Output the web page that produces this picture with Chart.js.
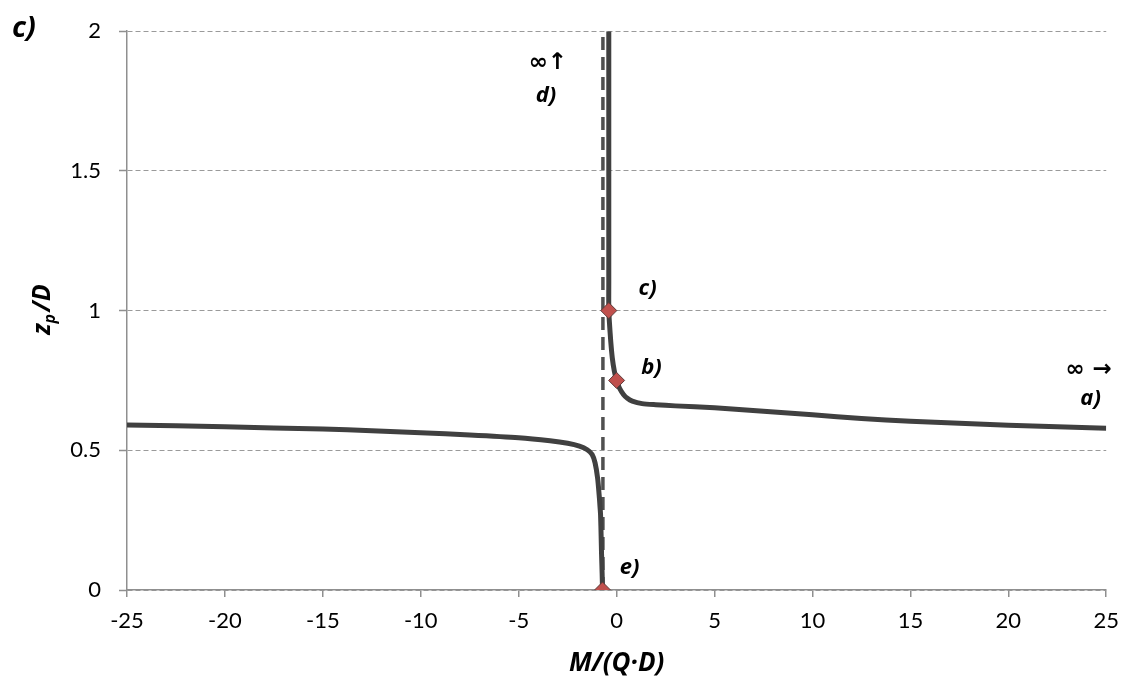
<!DOCTYPE html>
<html><head><meta charset="utf-8">
<script src="https://cdn.jsdelivr.net/npm/chart.js@4"></script>
<style>html,body{margin:0;padding:0;background:#fff}canvas{display:block}</style>
</head><body>
<canvas id="c" width="1130" height="684"></canvas>
<script>
// ---- data ----
const upperX = [-0.4, -0.4, -0.4, -0.4, -0.36, -0.3, -0.22, -0.12, 0, 0.15, 0.35, 0.55, 0.8, 1.3, 2, 3, 5, 7.5, 10, 12.5, 15, 17.5, 20, 22.5, 25];
const upperY = [2, 1.5, 1.1, 1.0, 0.95, 0.89, 0.83, 0.785, 0.75, 0.722, 0.70, 0.686, 0.676, 0.667, 0.663, 0.659, 0.652, 0.640, 0.627, 0.614, 0.604, 0.597, 0.590, 0.584, 0.579];
const lowerX = [-25, -20, -15, -12.5, -10, -7.5, -5, -3.4, -2.5, -1.9, -1.5, -1.25, -1.1, -0.97, -0.88, -0.85, -0.82, -0.79, -0.77, -0.74, -0.72];
const lowerY = [0.591, 0.584, 0.576, 0.570, 0.563, 0.555, 0.545, 0.534, 0.525, 0.515, 0.502, 0.485, 0.455, 0.40, 0.33, 0.30, 0.27, 0.19, 0.13, 0.06, 0];
const markerX = [-0.4, 0, -0.72];
const markerY = [1, 0.75, 0];
const asymptoteX = [-0.7, -0.7];
const asymptoteY = [0, 2];
const xTicks = [-25, -20, -15, -10, -5, 0, 5, 10, 15, 20, 25];
const xTickLabels = ['-25', '-20', '-15', '-10', '-5', '0', '5', '10', '15', '20', '25'];
const yTicks = [0, 0.5, 1, 1.5, 2];
const yTickLabels = ['0', '0.5', '1', '1.5', '2'];
const noteText = ['\u221E\u2191', 'd)', 'c)', 'b)', '\u221E \u2192', 'a)', 'e)'];
const noteX = [-3.51, -3.61, 1.58, 1.78, 24.1, 24.2, 0.66];
const noteY = [1.886, 1.769, 1.078, 0.797, 0.786, 0.683, 0.078];
const noteIsSymbol = [true, false, false, false, true, false, false];
const xTitle = 'M/(Q\u00B7D)';
const yTitleParts = ['z', 'p', '/D'];
const panelLabel = 'c)';

const toPts = (xs, ys) => xs.map((x, i) => ({x: x, y: ys[i]}));
const FONT = 'Lato, "Open Sans", sans-serif';
const BFONT = '"Open Sans", sans-serif';

const overlay = {
  id: 'overlay',
  afterDraw(chart) {
    const ctx = chart.ctx, xs = chart.scales.x, ys = chart.scales.y, ca = chart.chartArea;
    ctx.save();
    ctx.fillStyle = '#000';
    ctx.textAlign = 'center';
    ctx.textBaseline = 'middle';
    noteText.forEach((t, i) => {
      ctx.font = noteIsSymbol[i] ? 'bold 23px "DejaVu Sans", sans-serif' : 'italic 700 22px ' + BFONT;
      ctx.fillText(t, xs.getPixelForValue(noteX[i]), ys.getPixelForValue(noteY[i]));
    });
    // panel label
    ctx.font = 'italic 700 29px ' + BFONT;
    ctx.fillText(panelLabel, 24, 29);
    // x title
    ctx.font = 'italic 700 26px ' + BFONT;
    ctx.fillText(xTitle, (ca.left + ca.right) / 2, 664);
    // y title with subscript
    ctx.translate(43, (ca.top + ca.bottom) / 2);
    ctx.rotate(-Math.PI / 2);
    const fMain = 'italic 700 25px ' + BFONT, fSub = 'italic 700 16px ' + BFONT;
    ctx.font = fMain; const w0 = ctx.measureText(yTitleParts[0]).width;
    ctx.font = fSub; const w1 = ctx.measureText(yTitleParts[1]).width;
    ctx.font = fMain; const w2 = ctx.measureText(yTitleParts[2]).width;
    let x0 = -(w0 + w1 + w2) / 2;
    ctx.textAlign = 'left';
    ctx.font = fMain; ctx.fillText(yTitleParts[0], x0, 0);
    ctx.font = fSub; ctx.fillText(yTitleParts[1], x0 + w0, 7);
    ctx.font = fMain; ctx.fillText(yTitleParts[2], x0 + w0 + w1 + 2, 0);
    ctx.restore();
  }
};

new Chart(document.getElementById('c'), {
  type: 'scatter',
  data: {
    datasets: [
      {data: toPts(markerX, markerY), showLine: false, pointStyle: 'rectRot', pointRadius: 8, pointHoverRadius: 8,
       backgroundColor: '#C0504D', borderColor: '#5e3a39', borderWidth: 1, order: 0},
      {data: toPts(upperX, upperY), showLine: true, borderColor: '#404040', borderWidth: 5, pointRadius: 0,
       tension: 0.25, fill: false, order: 1},
      {data: toPts(lowerX, lowerY), showLine: true, borderColor: '#404040', borderWidth: 5, pointRadius: 0,
       tension: 0.25, fill: false, order: 1},
      {data: toPts(asymptoteX, asymptoteY), showLine: true, borderColor: '#505050', borderWidth: 3.5, borderDash: [13, 7],
       pointRadius: 0, fill: false, order: 2}
    ]
  },
  options: {
    responsive: false,
    animation: false,
    layout: {padding: {top: 28, right: 21, left: 0, bottom: 0}},
    plugins: {legend: {display: false}, tooltip: {enabled: false}},
    scales: {
      x: {
        type: 'linear', min: -25, max: 25,
        afterBuildTicks: s => { s.ticks = xTicks.map(v => ({value: v})); },
        afterFit: s => { s.height = 94; },
        ticks: {callback: (v, i) => xTickLabels[i], color: '#000', font: {family: FONT, size: 22}, padding: 11, maxRotation: 0},
        grid: {drawOnChartArea: false, drawTicks: true, tickLength: 7, color: '#8f8f8f', lineWidth: 1.5},
        border: {color: '#8f8f8f', width: 1.5}
      },
      y: {
        type: 'linear', min: 0, max: 2,
        afterBuildTicks: s => { s.ticks = yTicks.map(v => ({value: v})); },
        afterFit: s => { s.width = 127; },
        ticks: {callback: (v, i) => yTickLabels[i], color: '#000', font: {family: FONT, size: 22}, padding: 18},
        grid: {drawOnChartArea: true, drawTicks: true, tickLength: 8, color: '#9a9a9a', lineWidth: 1, tickColor: '#8f8f8f', tickWidth: 1.5},
        border: {color: '#8f8f8f', width: 1.5, dash: [5, 3]}
      }
    }
  },
  plugins: [overlay]
});
</script>
</body></html>
